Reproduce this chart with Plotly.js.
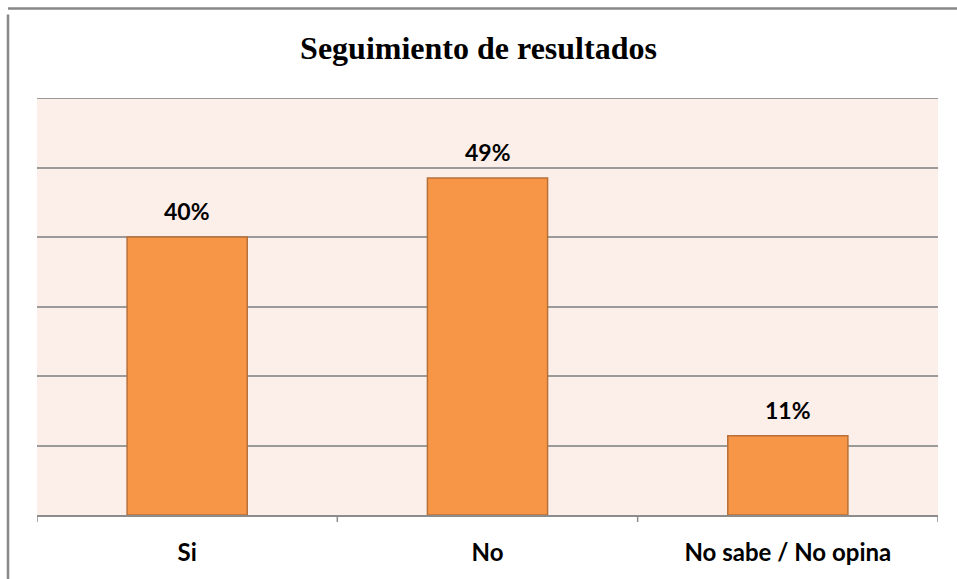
<!DOCTYPE html>
<html>
<head>
<meta charset="utf-8">
<script src="https://cdn.plot.ly/plotly-3.0.1.min.js"></script>
<style>
html,body{margin:0;padding:0;background:#fff;}
#chart{width:957px;height:579px;}
</style>
</head>
<body>
<div id="chart"></div>
<script>
const categories = ["Si", "No", "No sabe / No opina"];
const values = [40, 48.5, 11.4];
const labels = ["40%", "49%", "11%"];

const trace = {
  type: "bar",
  x: categories,
  y: values,
  marker: {color: "#F79646", line: {color: "#B8703A", width: 1.5}},
  width: 0.4,
  hoverinfo: "skip"
};

const annotations = categories.map((c, i) => ({
  x: c, y: values[i], xref: "x", yref: "y",
  text: labels[i], showarrow: false, yshift: 26,
  font: {family: "Lato, 'Open Sans', sans-serif", size: 23, color: "#000", weight: "bold"}
}));

const layout = {
  width: 957, height: 579,
  margin: {l: 37, r: 18.5, t: 97.5, b: 64},
  paper_bgcolor: "#ffffff",
  plot_bgcolor: "#FCEEE9",
  title: {
    text: "<b>Seguimiento de resultados</b>",
    font: {family: "'Liberation Serif', 'Times New Roman', serif", size: 32, color: "#000"},
    x: 0.5, xanchor: "center", y: 0.918, yanchor: "middle"
  },
  xaxis: {
    type: "category",
    showgrid: false,
    showline: true, linecolor: "#8C8C8C", linewidth: 2,
    ticks: "",
    tickfont: {family: "Lato, 'Open Sans', sans-serif", size: 24, color: "#000", weight: "bold"},
    ticklabelstandoff: 15,
    range: [-0.5, 2.5],
    fixedrange: true
  },
  yaxis: {
    range: [0, 60],
    dtick: 10,
    showticklabels: false,
    showgrid: true, gridcolor: "#9A9A9A", gridwidth: 2,
    zeroline: false, showline: false, ticks: "",
    fixedrange: true
  },
  showlegend: false,
  annotations: annotations,
  shapes: [
    {type: "line", xref: "paper", yref: "paper", x0: -29/901, x1: -29/901, y0: 1.2, y1: -0.2, line: {color: "#888888", width: 2.5}},
    {type: "line", xref: "paper", yref: "paper", x0: -29/901, x1: 1.05, y0: (515-8)/417.5, y1: (515-8)/417.5, line: {color: "#888888", width: 2.5}},
    {type: "line", xref: "paper", yref: "y", x0: 0, x1: 1, y0: 60, y1: 60, line: {color: "#9A9A9A", width: 2}}
  ].concat([0, 1, 2, 3].map(k => ({
    type: "line", xref: "x", yref: "paper", x0: k - 0.5, x1: k - 0.5, y0: 0, y1: -7/417.5,
    line: {color: "#8C8C8C", width: 1.5}
  })))
};

Plotly.newPlot("chart", [trace], layout, {displayModeBar: false, staticPlot: true});
</script>
</body>
</html>
